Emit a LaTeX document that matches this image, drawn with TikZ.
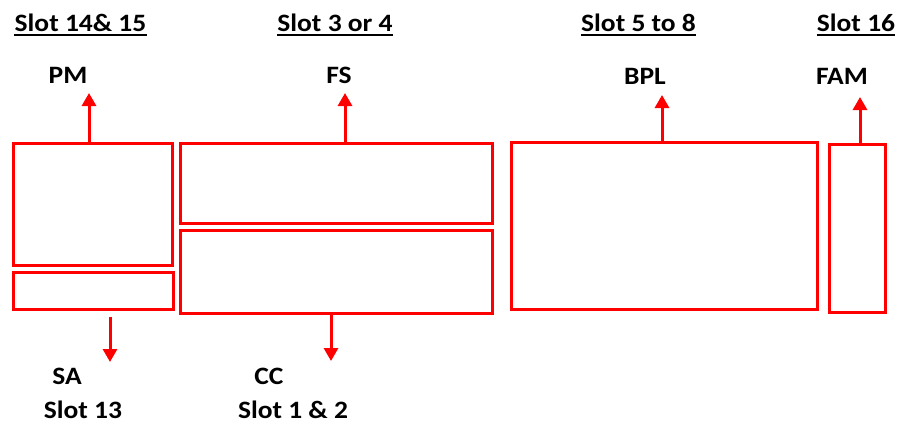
\documentclass[tikz,border=0pt]{standalone}
\usepackage{fontspec}
\setmainfont{Carlito}[FakeStretch=1.1]
\usetikzlibrary{arrows.meta}
\begin{document}
\begin{tikzpicture}[x=1pt,y=-1pt,
  box/.style={draw=red,line width=3pt,inner sep=0pt,fill=none},
  arr/.style={draw=red,line width=3pt,-{Triangle[width=14pt,length=13pt]}},
  lbl/.style={font=\fontsize{25}{30}\selectfont\bfseries,anchor=base,inner sep=0pt},
  ul/.style={line width=1.8pt}]
\useasboundingbox (0,0) rectangle (899,423);
% boxes
\node[box,minimum width=158.5pt,minimum height=121.5pt] (pm) at (92.75,204.25) {};
\node[box,minimum width=159.5pt,minimum height=37pt] (sa) at (93.25,290.5) {};
\node[box,minimum width=311.5pt,minimum height=79.5pt] (fs) at (336.25,183.25) {};
\node[box,minimum width=311.5pt,minimum height=83pt] (cc) at (336.25,271.5) {};
\node[box,minimum width=305.5pt,minimum height=166.5pt] (bpl) at (664.25,225.75) {};
\node[box,minimum width=55.5pt,minimum height=167.5pt] (fam) at (857.25,228.25) {};
% headings
\node[lbl] (h1) at (80.5,31) {Slot 14\& 15};
\node[lbl] (h2) at (335,31) {Slot 3 or 4};
\node[lbl] (h3) at (638.5,31) {Slot 5 to 8};
\node[lbl] (h4) at (856,31) {Slot 16};
\foreach \h in {h1,h2,h3,h4}{
  \draw[ul] ([yshift=-4pt]\h.base west) -- ([yshift=-4pt]\h.base east);
}
% labels
\node[lbl] (lpm) at (68,83) {PM};
\node[lbl] (lfs) at (339,83) {FS};
\node[lbl] (lbpl) at (645,84) {BPL};
\node[lbl] (lfam) at (842,84) {FAM};
\node[lbl] (lsa) at (67,384) {SA};
\node[lbl,text depth=0pt] (lss) at (83,418) {Slot 13};
\node[lbl] (lcc) at (269,384) {CC};
\node[lbl,text depth=0pt] (lcs) at (293,418) {Slot 1 \& 2};
% arrow tips
\coordinate (tpm) at (89,93);
\coordinate (tfs) at (345,93);
\coordinate (tbpl) at (662,95);
\coordinate (tfam) at (860,97);
\coordinate (tsa) at (110,362);
\coordinate (tcc) at (331,361);
\draw[arr] (pm.north -| tpm) -- (tpm);
\draw[arr] (fs.north -| tfs) -- (tfs);
\draw[arr] (bpl.north -| tbpl) -- (tbpl);
\draw[arr] ([yshift=-2pt]fam.north -| tfam) -- (tfam);
\draw[arr] ([yshift=-6pt]sa.south -| tsa) -- (tsa);
\draw[arr] (cc.south -| tcc) -- (tcc);
\end{tikzpicture}
\end{document}
